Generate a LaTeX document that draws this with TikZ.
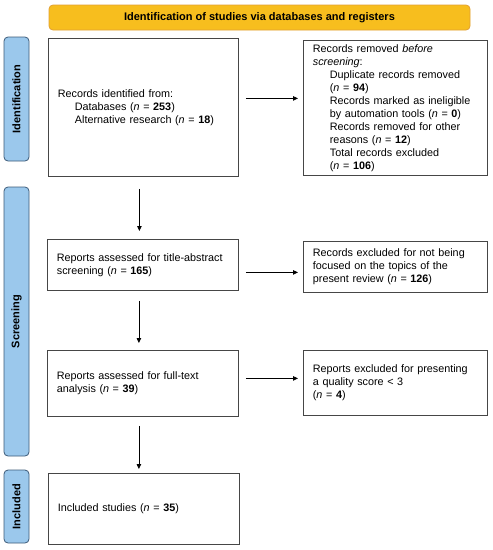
\documentclass[tikz,border=0pt]{standalone}
\usepackage{fontspec}
\setmainfont{Liberation Sans}
\usetikzlibrary{arrows.meta,calc}
\definecolor{bannerfill}{RGB}{247,190,30}
\definecolor{bannerdraw}{RGB}{225,160,50}
\definecolor{sidefill}{RGB}{155,200,236}
\definecolor{sidedraw}{RGB}{60,90,120}
\definecolor{boxdraw}{RGB}{70,70,70}
\newcommand{\nn}[1]{(\textit{n} = \textbf{#1})}
\newcommand{\ind}{\hspace*{17pt}}
\begin{document}
\begin{tikzpicture}[x=1pt,y=-1pt,
  box/.style 2 args={draw=boxdraw, line width=0.8pt, anchor=north west, inner xsep=9.5pt,
    inner ysep=0pt, align=left, minimum width=#1, minimum height=#2, text width=#1-19pt,
    font=\fontsize{10.8}{13}\selectfont},
  side/.style 2 args={draw=sidedraw, fill=sidefill, line width=0.8pt, rounded corners=4pt,
    rotate=90, minimum width=#1, minimum height=#2, inner sep=0pt,
    font=\bfseries\fontsize{11}{12}\selectfont},
  banner/.style={draw=bannerdraw, fill=bannerfill, line width=0.8pt, rounded corners=4pt,
    minimum width=421pt, minimum height=25pt, inner sep=0pt,
    font=\bfseries\fontsize{11}{12}\selectfont},
  arr/.style={-{Triangle[length=5pt,width=4.5pt]}, line width=0.8pt, black}
]
\useasboundingbox (0,0) rectangle (493,550);

\node[banner] (ban) at (259.5,17.5) {Identification of studies via databases and registers};

\node[side={124pt}{25pt}] (sid1) at (16.5,99) {Identification};
\node[side={269pt}{25pt}] (sid2) at (16.5,321.5) {Screening};
\node[side={73pt}{25pt}] (sid3) at (16.5,506.5) {Included};

\node[box={190pt}{138pt}] (b1) at (48,38) {Records identified from:\\
\ind Databases \nn{253}\\
\ind Alternative research \nn{18}};

\node[box={184pt}{135pt}] (b2) at (303,40) {Records removed \textit{before}\\
\textit{screening}:\\
\ind Duplicate records removed\\
\ind \nn{94}\\
\ind Records marked as ineligible\\
\ind by automation tools \nn{0}\\
\ind Records removed for other\\
\ind reasons \nn{12}\\
\ind Total records excluded\\
\ind \nn{106}};

\node[box={191pt}{51pt}] (b3) at (47,239) {Reports assessed for title-abstract\\
screening \nn{165}};

\node[box={184pt}{51pt}] (b4) at (303,241) {Records excluded for not being\\
focused on the topics of the\\
present review \nn{126}};

\node[box={191pt}{66pt}] (b5) at (47,350) {Reports assessed for full-text\\
analysis \nn{39}};

\node[box={184pt}{65pt}] (b6) at (303,350) {Reports excluded for presenting\\
a quality score < 3\\
\nn{4}};

\node[box={191pt}{71pt}] (b7) at (48,473) {Included studies \nn{35}};

\draw[arr, shorten <=7pt, shorten >=5pt] ([yshift=9pt]b1.east) -- ([yshift=9pt]b1.east -| b2.west);
\draw[arr, shorten <=7pt, shorten >=5pt] ([yshift=-7.5pt]b3.east) -- ([yshift=-7.5pt]b3.east -| b4.west);
\draw[arr, shorten <=7pt, shorten >=5pt] ([yshift=5pt]b5.east) -- ([yshift=5pt]b5.east -| b6.west);

\draw[arr, shorten <=12pt, shorten >=8pt] ([xshift=-4pt]b1.south) -- ([xshift=-4pt]b1.south |- b3.north);
\draw[arr, shorten <=10pt, shorten >=7pt] ([xshift=-4pt]b3.south) -- ([xshift=-4pt]b3.south |- b5.north);
\draw[arr, shorten <=9pt, shorten >=4pt] ([xshift=-4pt]b5.south) -- ([xshift=-4pt]b5.south |- b7.north);
\end{tikzpicture}
\end{document}
